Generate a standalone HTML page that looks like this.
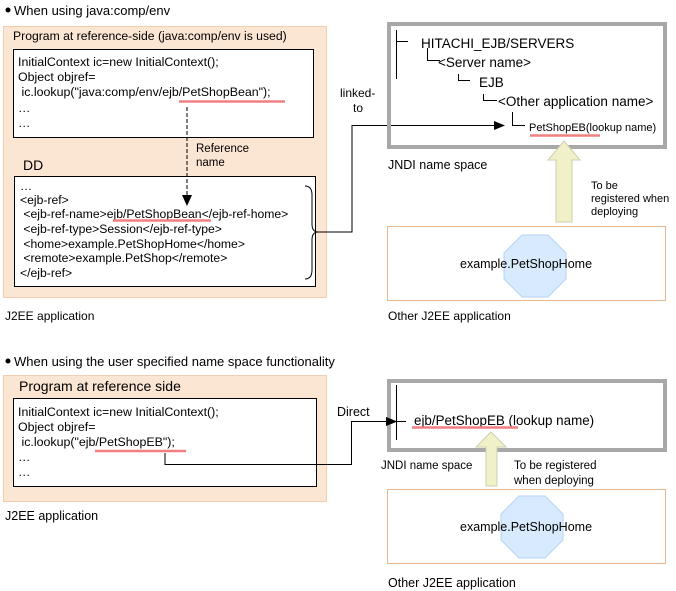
<!DOCTYPE html>
<html><head><meta charset="utf-8"><style>
html,body{margin:0;padding:0;background:#fff;}
svg{display:block;font-family:"Liberation Sans",Arial,sans-serif;}
</style></head><body>
<svg width="676" height="591" viewBox="0 0 676 591" xmlns="http://www.w3.org/2000/svg">
<!-- TOP SECTION -->
<circle cx="8" cy="10" r="2.5" fill="#000"/>
<text x="14" y="15" font-size="13">When using java:comp/env</text>
<rect x="3.5" y="26.5" width="323" height="271" fill="#fbe5d3" stroke="#f3cfb0"/>
<text x="13" y="40" font-size="12.2">Program at reference-side (java:comp/env is used)</text>
<rect x="13.5" y="49.5" width="300" height="88" fill="#fff" stroke="#000"/>
<g font-size="12.4">
<text x="18" y="66">InitialContext ic=new InitialContext();</text>
<text x="18" y="81">Object objref=</text>
<text x="18" y="96">&#160;ic.lookup("java:comp/env/ejb/PetShopBean");</text>
<text x="18" y="112">…</text>
<text x="18" y="127">…</text>
</g>
<line x1="179" y1="101.5" x2="285" y2="101.5" stroke="#f08080" stroke-width="2.5"/>
<text x="196" y="152" font-size="11.5">Reference</text>
<text x="196" y="166" font-size="11.5">name</text>
<text x="23" y="170" font-size="14">DD</text>
<rect x="14.5" y="176.5" width="301" height="110" fill="#fff" stroke="#000"/>
<line x1="187" y1="107" x2="187" y2="196" stroke="#000" stroke-dasharray="4,2"/>
<path d="M182,195 L192,195 L187,206 z" fill="#000"/>
<g font-size="12.2">
<text x="20" y="190">…</text>
<text x="20" y="204">&lt;ejb-ref&gt;</text>
<text x="20" y="218">&#160;&lt;ejb-ref-name&gt;ejb/PetShopBean&lt;/ejb-ref-home&gt;</text>
<text x="20" y="233">&#160;&lt;ejb-ref-type&gt;Session&lt;/ejb-ref-type&gt;</text>
<text x="20" y="248">&#160;&lt;home&gt;example.PetShopHome&lt;/home&gt;</text>
<text x="20" y="262">&#160;&lt;remote&gt;example.PetShop&lt;/remote&gt;</text>
<text x="20" y="277">&lt;/ejb-ref&gt;</text>
</g>
<line x1="113" y1="220.5" x2="211" y2="220.5" stroke="#f08080" stroke-width="2.5"/>
<path d="M305,186 Q312,186 312,195 L312,224 Q312,232 318,232 Q312,232 312,240 L312,270 Q312,279 305,279" fill="none" stroke="#000"/>
<polyline points="318,232 352,232 352,125.5 496,125.5" fill="none" stroke="#000"/>
<path d="M494,121 L505,125.5 L494,130 z" fill="#000"/>
<text x="340" y="97" font-size="12">linked-</text>
<text x="353" y="112" font-size="12">to</text>
<text x="5" y="320" font-size="12">J2EE application</text>

<rect x="389" y="24" width="276" height="123" fill="none" stroke="#a8a8a8" stroke-width="4"/>
<g stroke="#000" fill="none">
<line x1="396.5" y1="30" x2="396.5" y2="79"/>
<line x1="396" y1="41.5" x2="408" y2="41.5"/>
<polyline points="427.5,48 427.5,60.5 440,60.5"/>
<polyline points="458.5,74 458.5,80.5 470,80.5"/>
<polyline points="483.5,94 483.5,100.5 497,100.5"/>
<polyline points="512.5,112 512.5,125.5 525,125.5"/>
</g>
<text x="421" y="48" font-size="13.5">HITACHI_EJB/SERVERS</text>
<text x="438" y="67" font-size="13.5">&lt;Server name&gt;</text>
<text x="479" y="87" font-size="13.5">EJB</text>
<text x="498" y="106" font-size="13.5">&lt;Other application name&gt;</text>
<text x="529" y="131" font-size="11">PetShopEB(lookup name)</text>
<line x1="530" y1="135.5" x2="600" y2="135.5" stroke="#f08080" stroke-width="2.5"/>
<text x="388" y="169" font-size="12.5">JNDI name space</text>
<path d="M564,141 L580,160 L572,160 L572,222 L556,222 L556,160 L548,160 z" fill="#f1f1c9" stroke="#cfcfb0"/>
<text x="591" y="189" font-size="11">To be</text>
<text x="591" y="202" font-size="11">registered when</text>
<text x="591" y="215" font-size="11">deploying</text>
<rect x="387.5" y="226.5" width="278" height="74" fill="#fff" stroke="#e8b88c"/>
<polygon points="522,235 548,235 566,253 566,279 548,297 522,297 504,279 504,253" fill="#d8eafd" stroke="#b5d3f3"/>
<text x="460" y="268" font-size="12.5">example.PetShopHome</text>
<text x="388" y="320" font-size="12">Other J2EE application</text>

<!-- BOTTOM SECTION -->
<circle cx="8" cy="361" r="2.5" fill="#000"/>
<text x="14" y="366" font-size="13">When using the user specified name space functionality</text>
<rect x="3.5" y="375.5" width="323" height="126" fill="#fbe5d3" stroke="#f3cfb0"/>
<text x="19" y="391" font-size="14">Program at reference side</text>
<rect x="13.5" y="398.5" width="303" height="88" fill="#fff" stroke="#000"/>
<g font-size="12.4">
<text x="18" y="416">InitialContext ic=new InitialContext();</text>
<text x="18" y="431">Object objref=</text>
<text x="18" y="446">&#160;ic.lookup("ejb/PetShopEB");</text>
<text x="18" y="461">…</text>
<text x="18" y="476">…</text>
</g>
<line x1="95" y1="451" x2="186" y2="451" stroke="#f08080" stroke-width="2.5"/>
<polyline points="165,453 165,464.5 351.5,464.5 351.5,421.5 388,421.5" fill="none" stroke="#000"/>
<path d="M386,417 L397,421.5 L386,426 z" fill="#000"/>
<text x="337" y="416" font-size="12.5">Direct</text>
<text x="5" y="520" font-size="12.5">J2EE application</text>

<rect x="389" y="381" width="276" height="69" fill="none" stroke="#a8a8a8" stroke-width="4"/>
<line x1="396.5" y1="385" x2="396.5" y2="440" stroke="#000"/>
<line x1="397" y1="421.5" x2="406" y2="421.5" stroke="#000"/>
<path d="M386,417 L397,421.5 L386,426 z" fill="#000"/>
<text x="414" y="425" font-size="13.4">ejb/PetShopEB (lookup name)</text>
<line x1="412" y1="427.5" x2="518" y2="427.5" stroke="#f08080" stroke-width="2.5"/>
<text x="381" y="469" font-size="11.5">JNDI name space</text>
<path d="M491,432 L506,447 L497,447 L497,486 L486,486 L486,447 L476,447 z" fill="#f1f1c9" stroke="#cfcfb0"/>
<text x="514" y="469" font-size="11.5">To be registered</text>
<text x="514" y="484" font-size="11.5">when deploying</text>
<rect x="387.5" y="489.5" width="278" height="74" fill="#fff" stroke="#e8b88c"/>
<polygon points="519,496 545,496 563,514 563,540 545,558 519,558 501,540 501,514" fill="#d8eafd" stroke="#b5d3f3"/>
<text x="460" y="531" font-size="12.5">example.PetShopHome</text>
<text x="388" y="587" font-size="12.5">Other J2EE application</text>
</svg>
</body></html>
